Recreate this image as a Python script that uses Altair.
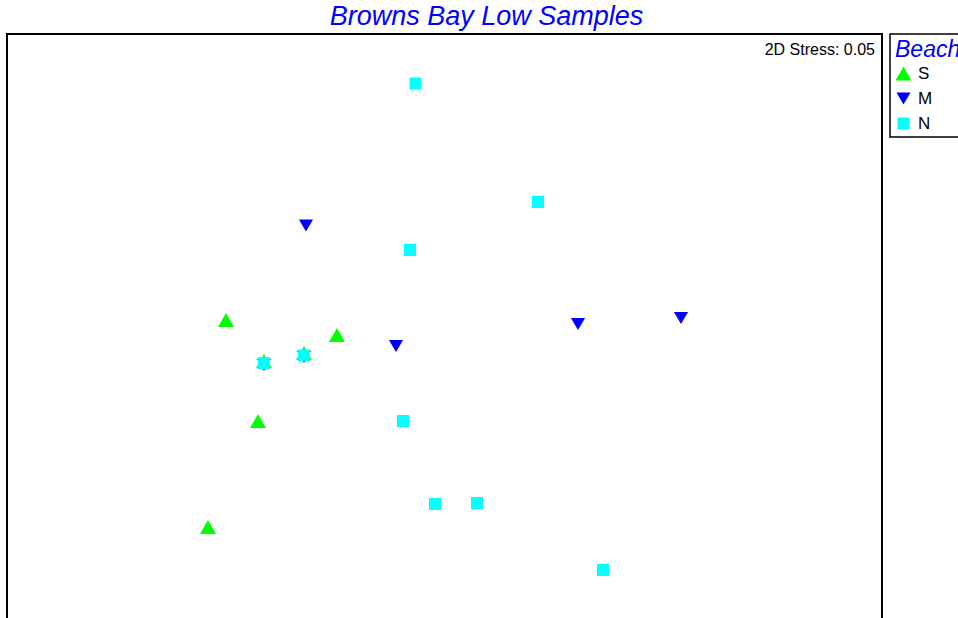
import altair as alt
import pandas as pd

# MDS ordination of the Browns Bay low-tide samples, grouped by beach
beach = ["S"] * 6 + ["M"] * 6 + ["N"] * 9
mds1 = [-2.18, -1.07, -1.86, -2.36, -1.80, -1.40,
        -1.38, -0.48, 1.34, 2.37, -1.80, -1.40,
        -0.285, 0.94, -0.34, -0.41, -0.09, 0.33, 1.59, -1.80, -1.40]
mds2 = [0.30, 0.15, -0.71, -1.77, -0.11, -0.03,
        1.245, 0.04, 0.26, 0.32, -0.15, -0.07,
        2.665, 1.48, 1.00, -0.71, -1.54, -1.53, -2.20, -0.13, -0.055]

beach_levels = ["S", "M", "N"]
beach_colors = ["#00ff00", "#0000ff", "#00ffff"]
beach_shapes = ["triangle-up", "triangle-down", "square"]
beach_sizes = [256, 144, 169]

stress_label = ["2D Stress: 0.05"]

df = pd.DataFrame({"Beach": beach, "MDS1": mds1, "MDS2": mds2})

legend = alt.Legend(
    title="Beach",
    orient="none",
    legendX=883,
    legendY=0,
    padding=5,
    strokeColor="black",
    titleFont="Liberation Sans",
    titleFontSize=23,
    titleFontStyle="italic",
    titleFontWeight="normal",
    titleColor="#0000ff",
    titlePadding=3,
    labelFont="Liberation Sans",
    labelFontSize=17,
    labelColor="black",
    labelOffset=6,
    rowPadding=7,
    symbolSize=160,
    symbolStrokeWidth=0,
    symbolOpacity=1,
)

points = alt.Chart(df).mark_point(filled=True, opacity=1, strokeWidth=0).encode(
    x=alt.X("MDS1:Q", scale=alt.Scale(domain=[-4.37, 4.38], nice=False, zero=False), axis=None),
    y=alt.Y("MDS2:Q", scale=alt.Scale(domain=[-2.68, 3.16], nice=False, zero=False), axis=None),
    color=alt.Color("Beach:N", scale=alt.Scale(domain=beach_levels, range=beach_colors), legend=legend),
    shape=alt.Shape("Beach:N", scale=alt.Scale(domain=beach_levels, range=beach_shapes), legend=legend),
    size=alt.Size("Beach:N", scale=alt.Scale(domain=beach_levels, range=beach_sizes), legend=None),
)

# plot frame; its lower edge runs past the bottom of the page
frame = alt.Chart(pd.DataFrame({"f": [0]})).mark_rect(
    fill=None, stroke="black", strokeWidth=2
).encode(
    x=alt.value(0), x2=alt.value(875), y=alt.value(0), y2=alt.value(592),
)

stress = alt.Chart(pd.DataFrame({"label": stress_label})).mark_text(
    align="right", baseline="middle", font="Liberation Sans", fontSize=16, color="black"
).encode(
    text="label:N",
    x=alt.value(868),
    y=alt.value(16),
)

chart = alt.layer(frame, points, stress).properties(
    width=875,
    height=584,
    title=alt.TitleParams(
        "Browns Bay Low Samples",
        font="Liberation Sans",
        fontSize=27,
        fontStyle="italic",
        fontWeight="normal",
        color="#0000ff",
        anchor="middle",
        dx=42,
        offset=2,
    ),
    padding={"left": 7, "top": 34, "right": 76, "bottom": 0},
    autosize=alt.AutoSizeParams(type="none"),
    background="white",
).configure_view(
    stroke=None
).configure_legend(
    strokeWidth=1.5
)

chart.save("out.html", embed_options={"renderer": "svg", "actions": False})
